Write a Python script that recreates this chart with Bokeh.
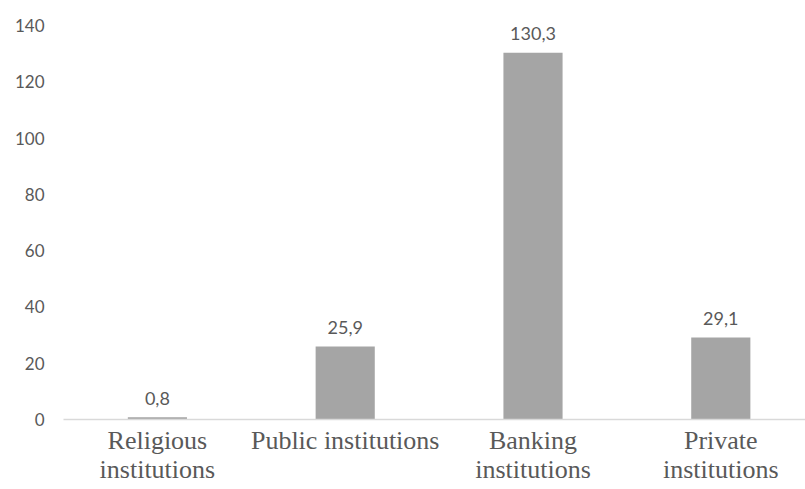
from bokeh.plotting import figure
from bokeh.models import Range1d, FixedTicker, ColumnDataSource
from bokeh.core.properties import value
from bokeh.embed import file_html
from bokeh.resources import INLINE

categories = ["Religious\ninstitutions", "Public institutions", "Banking\ninstitutions", "Private\ninstitutions"]
values = [0.8, 25.9, 130.3, 29.1]
y_ticks = [0, 20, 40, 60, 80, 100, 120, 140]

xs = [i + 0.5 for i in range(len(categories))]
labels = [f"{v:.1f}".replace(".", ",") for v in values]

src = ColumnDataSource(dict(x=xs, top=values, label=labels))

p = figure(width=805, height=489, output_backend="svg", toolbar_location=None,
           x_range=Range1d(0, 3.951), y_range=Range1d(0, 145.3),
           min_border_left=63, min_border_right=0, min_border_top=10, min_border_bottom=70)
p.outline_line_color = None
p.xgrid.grid_line_color = None
p.ygrid.grid_line_color = None
p.background_fill_color = "white"
p.border_fill_color = "white"

p.vbar(x="x", top="top", bottom=0, width=0.315, source=src, fill_color="#a5a5a5", line_color=None)
p.text(x="x", y="top", text="label", source=src, y_offset=-19, text_align="center",
       text_baseline="alphabetic", text_font=value("Lato"), text_font_size="18px", text_color="#595959")

xa = p.xaxis[0]
xa.ticker = FixedTicker(ticks=xs)
xa.major_label_overrides = {x: c for x, c in zip(xs, categories)}
xa.axis_line_color = "#d9d9d9"
xa.axis_line_width = 1.5
xa.major_tick_line_color = None
xa.minor_tick_line_color = None
xa.major_tick_in = 0
xa.major_tick_out = 0
xa.minor_tick_in = 0
xa.minor_tick_out = 0
xa.major_label_text_font = "Liberation Serif"
xa.major_label_text_font_size = "26px"
xa.major_label_text_line_height = 1.0
xa.major_label_text_color = "#595959"
xa.major_label_standoff = 6

ya = p.yaxis[0]
ya.ticker = FixedTicker(ticks=y_ticks)
ya.axis_line_color = None
ya.major_tick_line_color = None
ya.minor_tick_line_color = None
ya.major_tick_in = 0
ya.major_tick_out = 0
ya.minor_tick_in = 0
ya.minor_tick_out = 0
ya.major_label_text_font = "Lato"
ya.major_label_text_font_size = "17px"
ya.major_label_text_color = "#595959"
ya.major_label_standoff = 19

open("out.html", "w").write(file_html(p, INLINE))
